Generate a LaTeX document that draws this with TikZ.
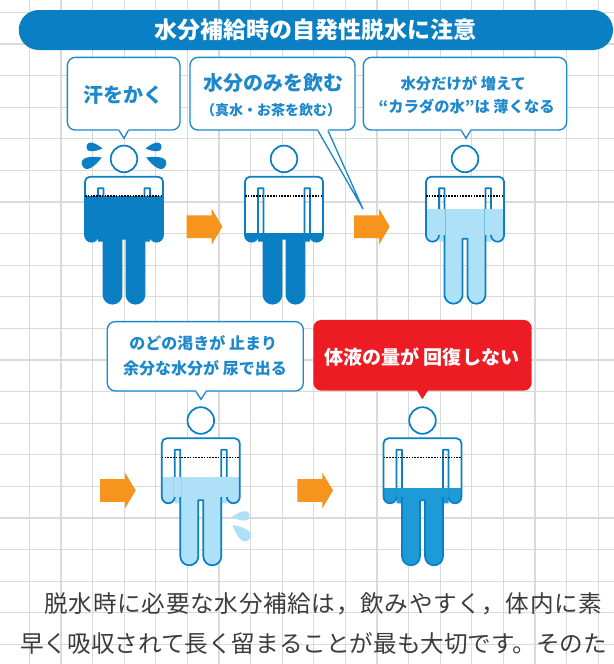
\documentclass[tikz,border=0pt]{standalone}
\usepackage{fontspec}
\setmainfont{Noto Sans CJK JP}
\usetikzlibrary{calc}

\definecolor{titleblue}{HTML}{0A7FC3}
\definecolor{bodyblue}{HTML}{0A7FC3}
\definecolor{bubbleblue}{HTML}{1E88CC}
\definecolor{waterlight}{HTML}{AEE0F8}
\definecolor{watermid}{HTML}{1E9AD6}
\definecolor{arroworange}{HTML}{F7941D}
\definecolor{alertred}{HTML}{ED1C24}
\definecolor{gridgray}{HTML}{DADADA}
\definecolor{bodytext}{HTML}{3C3C3C}

\tikzset{
  gridline/.style={gridgray, line width=0.9pt},
  figline/.style={draw=bodyblue, line width=1.3pt, line join=round},
  dotline/.style={black, line width=1.2pt, dash pattern=on 1.2pt off 0.9pt},
  titlebar/.style={fill=titleblue, rounded corners=15pt, minimum width=445.7pt,
    minimum height=30pt, inner sep=0pt, text=white,
    font=\fontsize{17.25pt}{17.25pt}\selectfont\bfseries},
  bubble/.style={draw=bubbleblue, line width=1pt, fill=white, rounded corners=6pt, inner sep=0pt},
  alertbubble/.style={fill=alertred, rounded corners=6pt, inner sep=0pt},
  tailline/.style={draw=bubbleblue, line width=1pt},
  bubbletext/.style={text=bubbleblue, inner sep=0pt},
  paratext/.style={anchor=west, inner sep=0pt, text=bodytext,
    font=\fontsize{17.7pt}{17.7pt}\selectfont},
  % outline of one figure, top of shoulders at (0,0)
  bodypath/.style={insert path={(0,0) -- (34,0) arc[start angle=270,end angle=360,radius=5]
    -- (39,58.5) arc[start angle=0,end angle=180,radius=6.5]
    -- (26,11.5) -- (20.5,11.5)
    -- (20.5,118) arc[start angle=0,end angle=180,radius=9]
    -- (2.5,62) -- (-2.5,62)
    -- (-2.5,118) arc[start angle=0,end angle=180,radius=9]
    -- (-20.5,11.5) -- (-26,11.5)
    -- (-26,58.5) arc[start angle=0,end angle=180,radius=6.5]
    -- (-39,5) arc[start angle=180,end angle=270,radius=5] -- cycle}},
  flowarrow/.pic={\fill[arroworange] (0,-11.3) -- (25,-11.3) -- (25,-18) -- (35.7,0)
    -- (25,18) -- (25,11.3) -- (0,11.3) -- cycle;},
  drop/.pic={\fill (0,0) .. controls (0.45,-0.28) and (1,-0.42) .. (1,0)
    .. controls (1,0.42) and (0.45,0.28) .. (0,0) -- cycle;}
}

% figure: x of centre, y of shoulders, water colour, water level
\newcommand{\drawperson}[4]{%
  \begin{scope}[shift={(#1,#2)}]
    \fill[white] [bodypath];
    \begin{scope}
      \clip [bodypath] (-26,11.5) rectangle (-20.5,65) (20.5,11.5) rectangle (26,65);
      \fill[#3] (-45,#4) rectangle (45,135);
    \end{scope}
    \draw[figline] [bodypath];
    \fill[#3] (-26.9,#4) rectangle (-19.6,58.5);
    \fill[#3] (19.6,#4) rectangle (26.9,58.5);
    \draw[dotline] (-39,19) -- (39,19);
    \draw[figline, fill=white] (0,-17.8) circle[radius=13.3];
  \end{scope}}

\begin{document}
\begin{tikzpicture}[x=0.75pt, y=0.75pt, yscale=-1]
  \useasboundingbox (0,0) rectangle (614,664);
  \fill[white] (0,0) rectangle (614,664);

  % Drawing grid
  \foreach \gx in {1,...,19}
    \draw[gridline] ({-2.3+31.6*\gx},0) -- ({-2.3+31.6*\gx},664);
  \foreach \gy in {0,...,20}
    \draw[gridline] (0,{12.3+31.6*\gy}) -- (614,{12.3+31.6*\gy});

  % Drawing title bar
  \node[titlebar] (title) at (315.9,30) {水分補給時の自発性脱水に注意};

  % Drawing bubble b1
  \node[bubble, minimum width=84.5pt, minimum height=54.5pt] (b1) at (123.7,93.7) {};
  \coordinate (tip1) at (124,138.3);
  \fill[white] ($(b1.south)+(-4.5,-1.5)$) -- (tip1) -- ($(b1.south)+(4.5,-1.5)$) -- cycle;
  \draw[tailline] ($(b1.south)+(-4.5,0)$) -- (tip1) -- ($(b1.south)+(4.5,0)$);
  \node[bubbletext, font=\fontsize{15pt}{15pt}\selectfont\bfseries] (sweat) at (123.5,95) {汗をかく};

  % Drawing bubble b2
  \node[bubble, minimum width=123.75pt, minimum height=54.5pt] (b2) at (272.5,93.7) {};
  \coordinate (tip2) at (363,209);
  \fill[white] ($(b2.south)+(45.5,-1.5)$) -- (tip2) -- ($(b2.south)+(55.5,-1.5)$) -- cycle;
  \draw[tailline] ($(b2.south)+(45.5,0)$) -- (tip2) -- ($(b2.south)+(55.5,0)$);
  \node[bubbletext, font=\fontsize{15pt}{15pt}\selectfont\bfseries] (drink) at (273.3,83.3) {水分のみを飲む};
  \node[bubbletext, font=\fontsize{10.5pt}{10.5pt}\selectfont\bfseries] (drinknote) at (271,110) {（真水・お茶を飲む）};

  % Drawing bubble b3
  \node[bubble, minimum width=152.5pt, minimum height=54.5pt] (b3) at (465,93.7) {};
  \coordinate (tip3) at (466,138.3);
  \fill[white] ($(b3.south)+(-3.5,-1.5)$) -- (tip3) -- ($(b3.south)+(5.5,-1.5)$) -- cycle;
  \draw[tailline] ($(b3.south)+(-3.5,0)$) -- (tip3) -- ($(b3.south)+(5.5,0)$);
  \node[bubbletext, font=\fontsize{11.5pt}{11.5pt}\selectfont\bfseries] (dilute1) at (463.3,83.3) {水分だけが 増えて};
  \node[bubbletext, font=\fontsize{11.5pt}{11.5pt}\selectfont\bfseries] (dilute2) at (466.7,106.7) {“カラダの水”は 薄くなる};

  % Drawing bubble b4
  \node[bubble, minimum width=147pt, minimum height=52pt] (b4) at (205.3,356.3) {};
  \coordinate (tip4) at (201,399.3);
  \fill[white] ($(b4.south)+(-9.3,-1.5)$) -- (tip4) -- ($(b4.south)+(0.7,-1.5)$) -- cycle;
  \draw[tailline] ($(b4.south)+(-9.3,0)$) -- (tip4) -- ($(b4.south)+(0.7,0)$);
  \node[bubbletext, font=\fontsize{12pt}{12pt}\selectfont\bfseries] (urine1) at (203.3,343.3) {のどの渇きが 止まり};
  \node[bubbletext, font=\fontsize{12pt}{12pt}\selectfont\bfseries] (urine2) at (205,368.3) {余分な水分が 尿で出る};

  % Drawing bubble b5
  \node[alertbubble, minimum width=163.8pt, minimum height=53pt] (b5) at (422.5,355.3) {};
  \coordinate (tip5) at (422.3,399.3);
  \fill[alertred] ($(b5.south)+(-5.8,-1)$) -- (tip5) -- ($(b5.south)+(5.8,-1)$) -- cycle;
  \node[text=white, inner sep=0pt, font=\fontsize{14.3pt}{14.3pt}\selectfont\bfseries] (alert) at (421.7,356.7) {体液の量が 回復しない};

  % Drawing figures
  \drawperson{124}{176.7}{bodyblue}{19}
  \drawperson{284}{176.7}{bodyblue}{56.7}
  \drawperson{465}{176.7}{waterlight}{32.6}
  \drawperson{200.8}{438.3}{waterlight}{38.4}
  \drawperson{422.5}{438.3}{watermid}{50}

  % Drawing sweat drops
  \pic[bodyblue, rotate=172, scale=16] at (102.5,148.5) {drop};
  \pic[bodyblue, rotate=202, scale=21] at (101.7,157.5) {drop};
  \pic[bodyblue, rotate=8, scale=16] at (145.5,148.5) {drop};
  \pic[bodyblue, rotate=-22, scale=21] at (146.3,157.5) {drop};

  % Drawing urine drops
  \pic[waterlight, rotate=5, scale=17.5] at (232,517) {drop};
  \pic[waterlight, rotate=-40, scale=22] at (232.5,525) {drop};

  % Drawing arrows
  \pic at (186.7,226.7) {flowarrow};
  \pic at (354,226.7) {flowarrow};
  \pic at (100,490.5) {flowarrow};
  \pic at (297.3,490.5) {flowarrow};

  % Drawing paragraph
  \node[paratext] (para1) at (20,604) {\addfontfeatures{LetterSpace=3}　脱水時に必要な水分補給は，飲みやすく，体内に素};
  \node[paratext] (para2) at (20,643) {早く吸収されて長く留まることが最も大切です。そのた};
\end{tikzpicture}
\end{document}
